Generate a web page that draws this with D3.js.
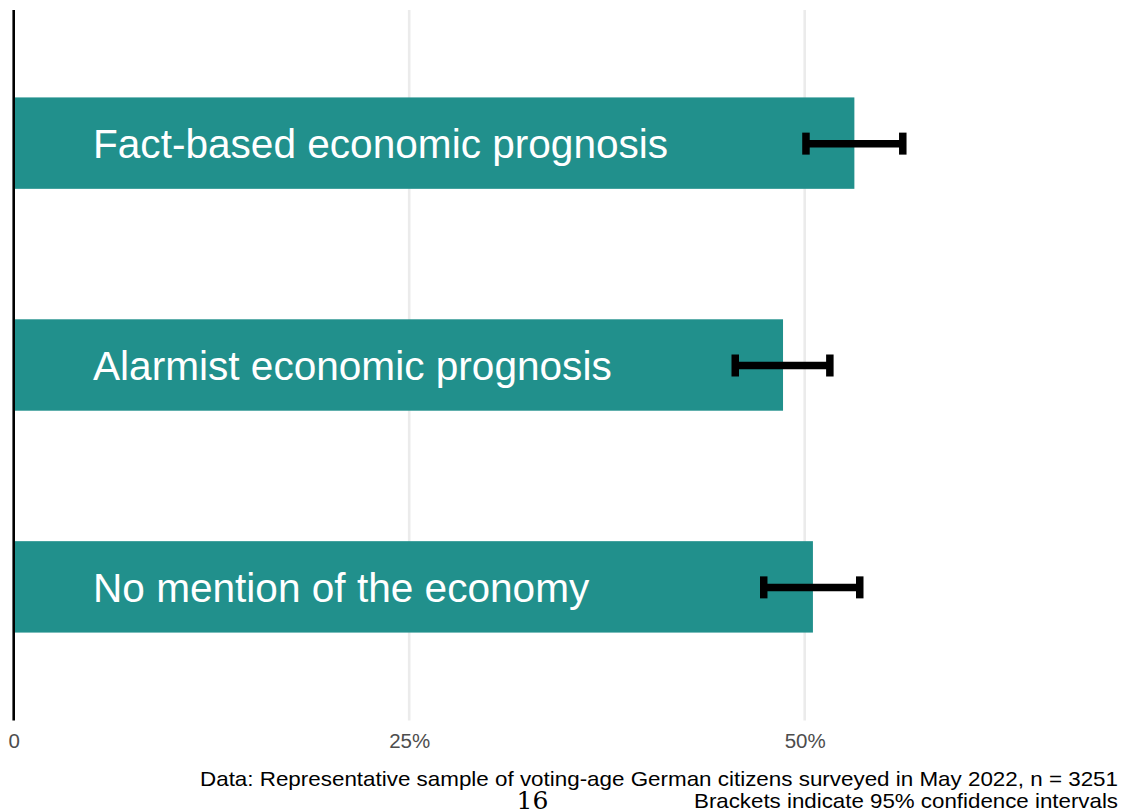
<!DOCTYPE html>
<html><head><meta charset="utf-8">
<script src="https://cdn.jsdelivr.net/npm/d3@7"></script>
<style>body{margin:0;background:#fff}svg{display:block}</style>
</head><body>
<svg id="chart" width="1130" height="812"></svg>
<script>
const categories = ["Fact-based economic prognosis", "Alarmist economic prognosis", "No mention of the economy"];
const values = [53.14, 48.63, 50.52];
const lower = [50.08, 45.61, 47.41];
const upper = [56.20, 51.59, 53.48];
const tickValues = [0, 25, 50];
const tickLabels = ["0", "25%", "50%"];
const captionLines = ["Data: Representative sample of voting-age German citizens surveyed in May 2022, n = 3251", "Brackets indicate 95% confidence intervals"];
const pageNumber = "16";

const svg = d3.select("#chart");
const x = d3.scaleLinear().domain([0, 50]).range([13.7, 804.7]);
// ggplot-like discrete expansion: 0.6 unit on each side
const y = d3.scalePoint().domain(categories).range([10 + 0.6 * 710 / 3.2, 720 - 0.6 * 710 / 3.2]);
const unit = 710 / 3.2;
const barH = 0.412 * unit;

// gridlines
svg.append("g").selectAll("line").data(tickValues.slice(1)).join("line")
  .attr("x1", d => x(d)).attr("x2", d => x(d)).attr("y1", 10).attr("y2", 720.5)
  .attr("stroke", "#ebebeb").attr("stroke-width", 2.6);

// bars
svg.append("g").selectAll("rect").data(categories).join("rect")
  .attr("x", x(0)).attr("y", d => y(d) - barH / 2)
  .attr("width", (d, i) => x(values[i]) - x(0)).attr("height", barH)
  .attr("fill", "#21908C");

// labels
svg.append("g").selectAll("text").data(categories).join("text")
  .attr("x", 93).attr("y", d => y(d) + 15)
  .attr("fill", "#fff").attr("font-family", "Liberation Sans, Arial, sans-serif")
  .attr("font-size", 40.6).text(d => d);

// error bars
const eb = svg.append("g").attr("stroke", "#000").attr("stroke-width", 7.5);
categories.forEach((c, i) => {
  const cy = y(c) + 0.5;
  eb.append("line").attr("x1", x(lower[i])).attr("x2", x(upper[i])).attr("y1", cy).attr("y2", cy);
  eb.append("line").attr("x1", x(lower[i])).attr("x2", x(lower[i])).attr("y1", cy - 11).attr("y2", cy + 11);
  eb.append("line").attr("x1", x(upper[i])).attr("x2", x(upper[i])).attr("y1", cy - 11).attr("y2", cy + 11);
});

// y axis line
svg.append("line").attr("x1", x(0)).attr("x2", x(0)).attr("y1", 10).attr("y2", 720.5)
  .attr("stroke", "#000").attr("stroke-width", 2.6);

// x tick labels
const xa = d3.axisBottom(x).tickValues(tickValues).tickFormat((d, i) => tickLabels[i]).tickSize(0).tickPadding(0);
const gx = svg.append("g").attr("transform", "translate(0,733.5)").call(xa);
gx.select(".domain").remove();
gx.selectAll("text").attr("font-family", "Liberation Sans, Arial, sans-serif").attr("font-size", 20.5)
  .attr("fill", "#4d4d4d").attr("dy", "0.71em");

// caption
svg.append("text").attr("x", 1118).attr("y", 785.5).attr("text-anchor", "end")
  .attr("font-family", "Liberation Sans Narrow, Liberation Sans, Arial, sans-serif").attr("font-size", 21)
  .attr("textLength", 918).attr("lengthAdjust", "spacingAndGlyphs").text(captionLines[0]);
svg.append("text").attr("x", 1118).attr("y", 808).attr("text-anchor", "end")
  .attr("font-family", "Liberation Sans Narrow, Liberation Sans, Arial, sans-serif").attr("font-size", 21)
  .attr("textLength", 424).attr("lengthAdjust", "spacingAndGlyphs").text(captionLines[1]);
svg.append("text").attr("x", 532.5).attr("y", 808.5).attr("text-anchor", "middle")
  .attr("font-family", "DejaVu Serif, Liberation Serif, serif").attr("font-size", 25).text(pageNumber);
</script>
</body></html>
